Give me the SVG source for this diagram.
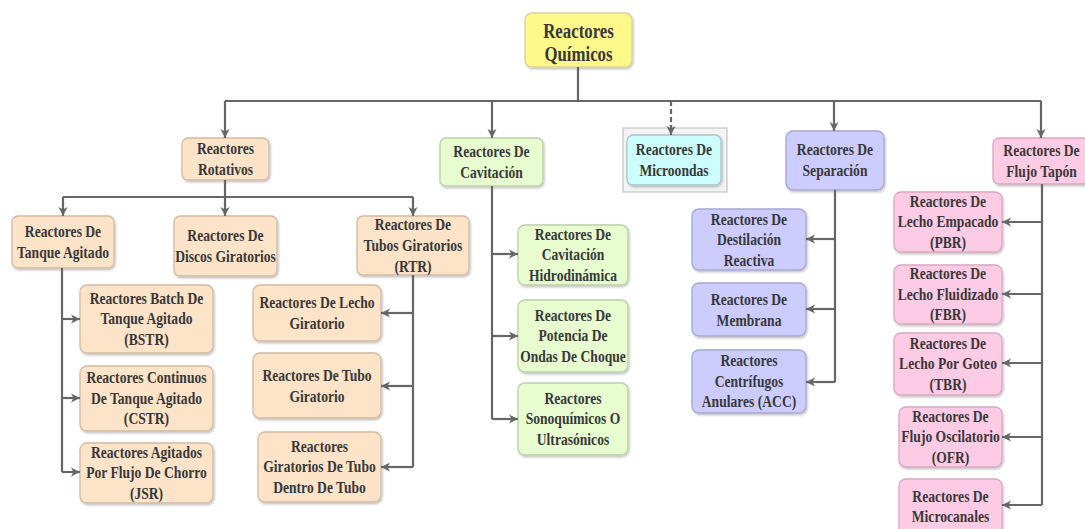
<svg xmlns="http://www.w3.org/2000/svg" width="1085" height="529" viewBox="0 0 1085 529">
<style>
.n{stroke:#b4aaa0;stroke-width:1.3;filter:url(#sh)}
.y{fill:#fff98c;stroke:#d8d49a}
.o{fill:#fde3c8;stroke:#d2bca4}
.g{fill:#e7fdd0;stroke:#bcd0a8}
.c{fill:#ccfefe;stroke:#a8c8c8}
.p{fill:#ccccff;stroke:#a8a8d4}
.k{fill:#fecbe5;stroke:#d8a8c0}
text{font-family:"Liberation Serif","Times New Roman",serif;font-weight:bold;font-size:17px;fill:#383838;text-anchor:middle}
.cn path{fill:none;stroke:#666;stroke-width:2.2}
.cn .a{marker-end:url(#ar)}
</style>
<defs>
<filter id="sh" x="-10%" y="-10%" width="125%" height="130%">
<feDropShadow dx="1" dy="1.5" stdDeviation="1.2" flood-color="#000" flood-opacity="0.25"/>
</filter>
<marker id="ar" markerUnits="userSpaceOnUse" markerWidth="11" markerHeight="11" refX="9" refY="5" orient="auto">
<path d="M0,0.5 L9,5 L0,9.5 L2.5,5 z" fill="#666"/>
</marker>
</defs>
<g id="root"><rect class="n y" x="525" y="13" width="107" height="54" rx="7"/>
<text transform="translate(578.5,0) scale(0.84,1)" style="font-size:20px"><tspan x="0" y="38">Reactores</tspan><tspan x="0" y="61">Químicos</tspan></text></g>
<g id="rotativos"><rect class="n o" x="182" y="138" width="87" height="42" rx="6"/>
<text transform="translate(225.5,0) scale(0.8,1)"><tspan x="0" y="154">Reactores</tspan><tspan x="0" y="175">Rotativos</tspan></text></g>
<g id="cavitacion"><rect class="n g" x="440" y="138" width="103" height="48" rx="6"/>
<text transform="translate(491.5,0) scale(0.8,1)"><tspan x="0" y="157">Reactores De</tspan><tspan x="0" y="178">Cavitación</tspan></text></g>
<g id="microondas"><rect x="623" y="128" width="104" height="64" fill="#f4f4f4" stroke="#c8c8c8" stroke-width="1.3"/>
<rect class="n c" x="627" y="135" width="94" height="50" rx="6"/>
<text transform="translate(674,0) scale(0.8,1)"><tspan x="0" y="155">Reactores De</tspan><tspan x="0" y="176">Microondas</tspan></text></g>
<g id="separacion"><rect class="n p" x="786" y="131" width="98" height="59" rx="7"/>
<text transform="translate(835,0) scale(0.8,1)"><tspan x="0" y="155.5">Reactores De</tspan><tspan x="0" y="176.5">Separación</tspan></text></g>
<g id="flujo"><rect class="n k" x="993" y="138" width="97" height="46" rx="6"/>
<text transform="translate(1041.5,0) scale(0.8,1)"><tspan x="0" y="156">Reactores De</tspan><tspan x="0" y="177">Flujo Tapón</tspan></text></g>
<g id="tanque"><rect class="n o" x="12" y="216" width="102" height="52" rx="6"/>
<text transform="translate(63,0) scale(0.8,1)"><tspan x="0" y="237">Reactores De</tspan><tspan x="0" y="258">Tanque Agitado</tspan></text></g>
<g id="discos"><rect class="n o" x="174" y="216" width="103" height="60" rx="6"/>
<text transform="translate(225.5,0) scale(0.8,1)"><tspan x="0" y="241">Reactores De</tspan><tspan x="0" y="262">Discos Giratorios</tspan></text></g>
<g id="rtr"><rect class="n o" x="357" y="216" width="112" height="59" rx="6"/>
<text transform="translate(413,0) scale(0.8,1)"><tspan x="0" y="230">Reactores De</tspan><tspan x="0" y="251">Tubos Giratorios</tspan><tspan x="0" y="272">(RTR)</tspan></text></g>
<g id="bstr"><rect class="n o" x="80" y="285" width="133" height="68" rx="7"/>
<text transform="translate(146.5,0) scale(0.8,1)"><tspan x="0" y="304">Reactores Batch De</tspan><tspan x="0" y="324.5">Tanque Agitado</tspan><tspan x="0" y="345">(BSTR)</tspan></text></g>
<g id="cstr"><rect class="n o" x="80" y="366" width="133" height="65" rx="7"/>
<text transform="translate(146.5,0) scale(0.8,1)"><tspan x="0" y="383.5">Reactores Continuos</tspan><tspan x="0" y="404">De Tanque Agitado</tspan><tspan x="0" y="424.5">(CSTR)</tspan></text></g>
<g id="jsr"><rect class="n o" x="80" y="443" width="133" height="60" rx="7"/>
<text transform="translate(146.5,0) scale(0.8,1)"><tspan x="0" y="458">Reactores Agitados</tspan><tspan x="0" y="478.5">Por Flujo De Chorro</tspan><tspan x="0" y="499">(JSR)</tspan></text></g>
<g id="lecho-gir"><rect class="n o" x="253" y="285" width="128" height="56" rx="7"/>
<text transform="translate(317,0) scale(0.8,1)"><tspan x="0" y="308">Reactores De Lecho</tspan><tspan x="0" y="329">Giratorio</tspan></text></g>
<g id="tubo-gir"><rect class="n o" x="253" y="353" width="128" height="65" rx="7"/>
<text transform="translate(317,0) scale(0.8,1)"><tspan x="0" y="381">Reactores De Tubo</tspan><tspan x="0" y="402">Giratorio</tspan></text></g>
<g id="tubo-tubo"><rect class="n o" x="258" y="432" width="123" height="70" rx="7"/>
<text transform="translate(319.5,0) scale(0.8,1)"><tspan x="0" y="452">Reactores</tspan><tspan x="0" y="472.5">Giratorios De Tubo</tspan><tspan x="0" y="493">Dentro De Tubo</tspan></text></g>
<g id="hidro"><rect class="n g" x="518" y="225" width="110" height="60" rx="7"/>
<text transform="translate(573,0) scale(0.8,1)"><tspan x="0" y="240">Reactores De</tspan><tspan x="0" y="260.5">Cavitación</tspan><tspan x="0" y="281">Hidrodinámica</tspan></text></g>
<g id="potencia"><rect class="n g" x="518" y="300" width="110" height="72" rx="7"/>
<text transform="translate(573,0) scale(0.8,1)"><tspan x="0" y="321">Reactores De</tspan><tspan x="0" y="341.5">Potencia De</tspan><tspan x="0" y="362">Ondas De Choque</tspan></text></g>
<g id="sono"><rect class="n g" x="518" y="383" width="110" height="72" rx="7"/>
<text transform="translate(573,0) scale(0.8,1)"><tspan x="0" y="404">Reactores</tspan><tspan x="0" y="424.5">Sonoquímicos O</tspan><tspan x="0" y="445">Ultrasónicos</tspan></text></g>
<g id="destilacion"><rect class="n p" x="692" y="209" width="114" height="61" rx="7"/>
<text transform="translate(749,0) scale(0.8,1)"><tspan x="0" y="225">Reactores De</tspan><tspan x="0" y="245.5">Destilación</tspan><tspan x="0" y="266">Reactiva</tspan></text></g>
<g id="membrana"><rect class="n p" x="692" y="283" width="114" height="53" rx="7"/>
<text transform="translate(749,0) scale(0.8,1)"><tspan x="0" y="305">Reactores De</tspan><tspan x="0" y="326">Membrana</tspan></text></g>
<g id="acc"><rect class="n p" x="692" y="350" width="114" height="63" rx="7"/>
<text transform="translate(749,0) scale(0.8,1)"><tspan x="0" y="366.5">Reactores</tspan><tspan x="0" y="387">Centrífugos</tspan><tspan x="0" y="407.5">Anulares (ACC)</tspan></text></g>
<g id="pbr"><rect class="n k" x="894" y="192" width="108" height="60" rx="7"/>
<text transform="translate(948,0) scale(0.8,1)"><tspan x="0" y="207">Reactores De</tspan><tspan x="0" y="227.5">Lecho Empacado</tspan><tspan x="0" y="248">(PBR)</tspan></text></g>
<g id="fbr"><rect class="n k" x="894" y="265" width="108" height="59" rx="7"/>
<text transform="translate(948,0) scale(0.8,1)"><tspan x="0" y="279.5">Reactores De</tspan><tspan x="0" y="300">Lecho Fluidizado</tspan><tspan x="0" y="320.5">(FBR)</tspan></text></g>
<g id="tbr"><rect class="n k" x="894" y="333" width="108" height="62" rx="7"/>
<text transform="translate(948,0) scale(0.8,1)"><tspan x="0" y="349">Reactores De</tspan><tspan x="0" y="369.5">Lecho Por Goteo</tspan><tspan x="0" y="390">(TBR)</tspan></text></g>
<g id="ofr"><rect class="n k" x="899" y="407" width="103" height="60" rx="7"/>
<text transform="translate(950.5,0) scale(0.8,1)"><tspan x="0" y="422">Reactores De</tspan><tspan x="0" y="442.5">Flujo Oscilatorio</tspan><tspan x="0" y="463">(OFR)</tspan></text></g>
<g id="microcanales"><rect class="n k" x="899" y="479" width="103" height="58" rx="7"/>
<text transform="translate(950.5,0) scale(0.8,1)"><tspan x="0" y="502">Reactores De</tspan><tspan x="0" y="522">Microcanales</tspan></text></g>
<g class="cn" id="connectors">
<path d="M578,67 V101"/>
<path d="M225,101 H1041"/>
<path class="a" d="M225,101 V138"/>
<path class="a" d="M492,101 V138"/>
<path d="M671,101 V127" stroke-dasharray="5,3"/>
<path class="a" d="M671,125 V135"/>
<path class="a" d="M834,101 V131"/>
<path class="a" d="M1041,101 V138"/>
<path d="M225,180 V197"/>
<path d="M63,197 H413"/>
<path class="a" d="M63,197 V216"/>
<path class="a" d="M225,197 V216"/>
<path class="a" d="M413,197 V216"/>
<path d="M62,268 V472"/>
<path class="a" d="M62,319 H80"/>
<path class="a" d="M62,398 H80"/>
<path class="a" d="M62,472 H80"/>
<path d="M413,275 V467"/>
<path class="a" d="M413,313 H381"/>
<path class="a" d="M413,386 H381"/>
<path class="a" d="M413,467 H381"/>
<path d="M492,186 V419"/>
<path class="a" d="M492,254 H518"/>
<path class="a" d="M492,336 H518"/>
<path class="a" d="M492,419 H518"/>
<path d="M835,190 V382"/>
<path class="a" d="M835,239 H806"/>
<path class="a" d="M835,309 H806"/>
<path class="a" d="M835,382 H806"/>
<path d="M1042,184 V505"/>
<path class="a" d="M1042,222 H1002"/>
<path class="a" d="M1042,294 H1002"/>
<path class="a" d="M1042,363 H1002"/>
<path class="a" d="M1042,437 H1002"/>
<path class="a" d="M1042,505 H1002"/>
</g>
</svg>
